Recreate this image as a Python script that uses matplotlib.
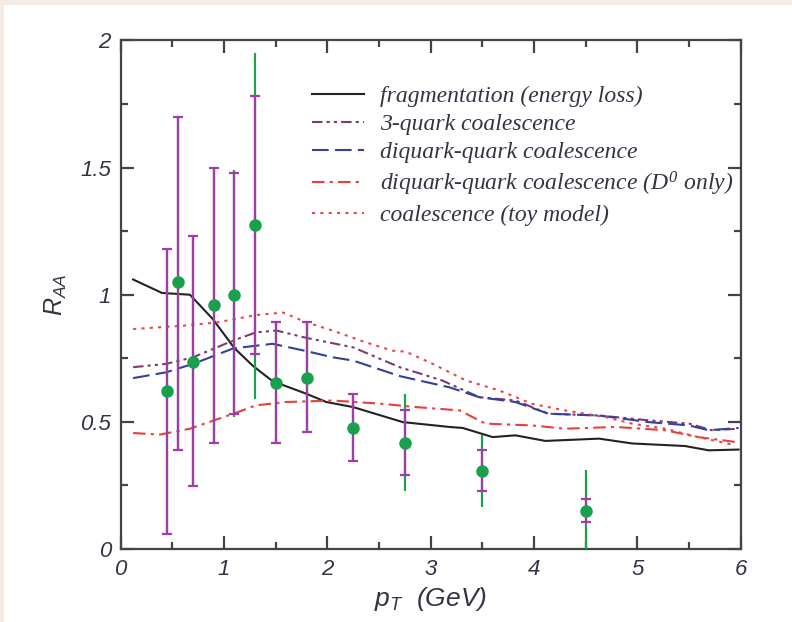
import matplotlib
matplotlib.use('Agg')
import matplotlib.pyplot as plt
from matplotlib.ticker import MultipleLocator
from matplotlib.patches import Rectangle

plt.rcParams['mathtext.fontset'] = 'custom'
plt.rcParams['mathtext.it'] = 'Liberation Serif:italic'
plt.rcParams['mathtext.rm'] = 'Liberation Serif:italic'
plt.rcParams['mathtext.sf'] = 'Liberation Sans:italic'

#Data points
pt = [0.45, 0.55, 0.70, 0.90, 1.10, 1.30, 1.50, 1.80, 2.25, 2.75, 3.50, 4.50]
raa = [0.62, 1.05, 0.735, 0.96, 1.00, 1.275, 0.654, 0.672, 0.476, 0.418, 0.306, 0.149]
stat_lo = [0.06, 0.39, 0.247, 0.417, 0.53, 0.767, 0.415, 0.46, 0.345, 0.29, 0.229, 0.107]
stat_hi = [1.18, 1.70, 1.23, 1.50, 1.477, 1.78, 0.894, 0.894, 0.608, 0.545, 0.388, 0.195]
tot_lo = [0.06, 0.39, 0.247, 0.417, 0.52, 0.59, 0.415, 0.46, 0.345, 0.227, 0.166, 0.0]
tot_hi = [1.18, 1.70, 1.23, 1.50, 1.49, 1.95, 0.894, 0.894, 0.608, 0.61, 0.447, 0.31]

#Model curves
frag_x = [0.12, 0.40, 0.67, 0.89, 1.10, 1.28, 1.47, 1.80, 1.99, 2.25, 2.73, 3.18, 3.31, 3.60, 3.82, 4.11, 4.63, 4.95, 5.46, 5.69, 5.98]
frag_y = [1.06, 1.007, 1.00, 0.905, 0.79, 0.72, 0.66, 0.61, 0.578, 0.558, 0.499, 0.48, 0.476, 0.44, 0.447, 0.425, 0.434, 0.415, 0.405, 0.388, 0.391]

q3_x = [0.12, 0.44, 0.70, 1.09, 1.31, 1.51, 1.80, 2.25, 2.70, 3.11, 3.47, 3.82, 4.14, 4.63, 5.11, 5.50, 5.72, 5.98]
q3_y = [0.715, 0.728, 0.754, 0.82, 0.852, 0.859, 0.83, 0.793, 0.715, 0.663, 0.597, 0.584, 0.532, 0.525, 0.506, 0.493, 0.467, 0.473]

dq_x = [0.12, 0.44, 0.70, 1.09, 1.47, 1.80, 2.05, 2.25, 2.70, 3.18, 3.47, 3.82, 4.14, 4.63, 5.11, 5.50, 5.69, 5.98]
dq_y = [0.672, 0.695, 0.728, 0.789, 0.807, 0.778, 0.754, 0.741, 0.68, 0.636, 0.597, 0.578, 0.532, 0.525, 0.499, 0.486, 0.467, 0.476]

d0_x = [0.12, 0.38, 0.67, 1.09, 1.31, 1.60, 2.05, 2.53, 2.86, 3.28, 3.53, 3.98, 4.30, 4.79, 5.27, 5.59, 5.95]
d0_y = [0.456, 0.45, 0.473, 0.532, 0.565, 0.578, 0.584, 0.571, 0.558, 0.545, 0.493, 0.486, 0.473, 0.48, 0.467, 0.44, 0.421]

toy_x = [0.12, 0.60, 0.93, 1.31, 1.57, 1.80, 2.05, 2.37, 2.63, 2.76, 3.02, 3.34, 3.66, 3.98, 4.30, 4.69, 4.95, 5.27, 5.59, 5.95]
toy_y = [0.865, 0.878, 0.891, 0.92, 0.93, 0.891, 0.859, 0.813, 0.78, 0.776, 0.728, 0.663, 0.624, 0.571, 0.545, 0.519, 0.493, 0.473, 0.44, 0.408]

labels = ['fragmentation (energy loss)', '3-quark coalescence', 'diquark-quark coalescence',
          r'diquark-quark coalescence ($D^0$ only)', 'coalescence (toy model)']

fig = plt.figure(figsize=(7.92, 6.22), dpi=100)
fig.patch.set_facecolor('#f3ebe4')
fig.patches.append(Rectangle((4 / 792, 0), 1, 1 - 5 / 622, transform=fig.transFigure,
                             facecolor='white', edgecolor='none', zorder=-10))
ax = fig.add_axes([0.1524, 0.1174, 0.7828, 0.8175])

#Curves
ax.plot(frag_x, frag_y, color='#222222', lw=1.5, label=labels[0])
ax.plot(q3_x, q3_y, color='#7d3a6e', lw=1.5, dashes=[5, 2, 1.5, 2, 1.5, 2], label=labels[1])
ax.plot(dq_x, dq_y, color='#33409c', lw=1.5, dashes=[8, 3], label=labels[2])
ax.plot(d0_x, d0_y, color='#e8403a', lw=1.5, dashes=[6, 2.5, 1.5, 2.5], label=labels[3])
ax.plot(toy_x, toy_y, color='#e84848', lw=1.5, dashes=[1.5, 2.5], label=labels[4])

#Data with error bars
err_tot = [[r - l for r, l in zip(raa, tot_lo)], [h - r for r, h in zip(raa, tot_hi)]]
err_stat = [[r - l for r, l in zip(raa, stat_lo)], [h - r for r, h in zip(raa, stat_hi)]]
ax.errorbar(pt, raa, yerr=err_tot, fmt='none', ecolor='#1fa04a', elinewidth=1.6, zorder=3)
ax.errorbar(pt, raa, yerr=err_stat, fmt='none', ecolor='#a23aa8', elinewidth=1.6,
            capsize=3.5, capthick=1.6, zorder=4)
ax.plot(pt, raa, 'o', color='#18a04c', ms=9, mec='none', zorder=5)

ax.set_xlim(0, 6)
ax.set_ylim(0, 2)
ax.xaxis.set_major_locator(MultipleLocator(1))
ax.xaxis.set_minor_locator(MultipleLocator(0.5))
ax.yaxis.set_minor_locator(MultipleLocator(0.25))
ax.set_yticks([0, 0.5, 1, 1.5, 2])
ax.set_yticklabels(['0', '0.5', '1', '1.5', '2'])

#Axis style
for s in ax.spines.values():
    s.set_linewidth(1.6)
    s.set_color('#444444')
ax.tick_params(which='both', direction='in', top=True, right=True, color='#444444', width=1.6)
ax.tick_params(which='major', length=9.5, pad=7)
ax.tick_params(which='minor', length=5)
for t in ax.get_xticklabels() + ax.get_yticklabels():
    t.set_family('Liberation Sans')
    t.set_style('italic')
    t.set_fontsize(16)
    t.set_color('#333344')

#Some text
ax.set_xlabel(r'$\mathsf{p_T}$  (GeV)', family='Liberation Sans', style='italic',
              fontsize=19, color='#333344', labelpad=4)
ax.set_ylabel(r'$\mathsf{R_{AA}}$', family='Liberation Sans', style='italic',
              fontsize=18, color='#333344', labelpad=8)

leg = ax.legend(loc='upper left', bbox_to_anchor=(0.29, 0.935), frameon=False,
                prop={'family': 'Liberation Serif', 'style': 'italic', 'size': 17},
                handlelength=2.2, handletextpad=0.65, labelspacing=0.28, borderpad=0)
for t in leg.get_texts():
    t.set_color('#333344')

fig.savefig('out.png', dpi=100)
